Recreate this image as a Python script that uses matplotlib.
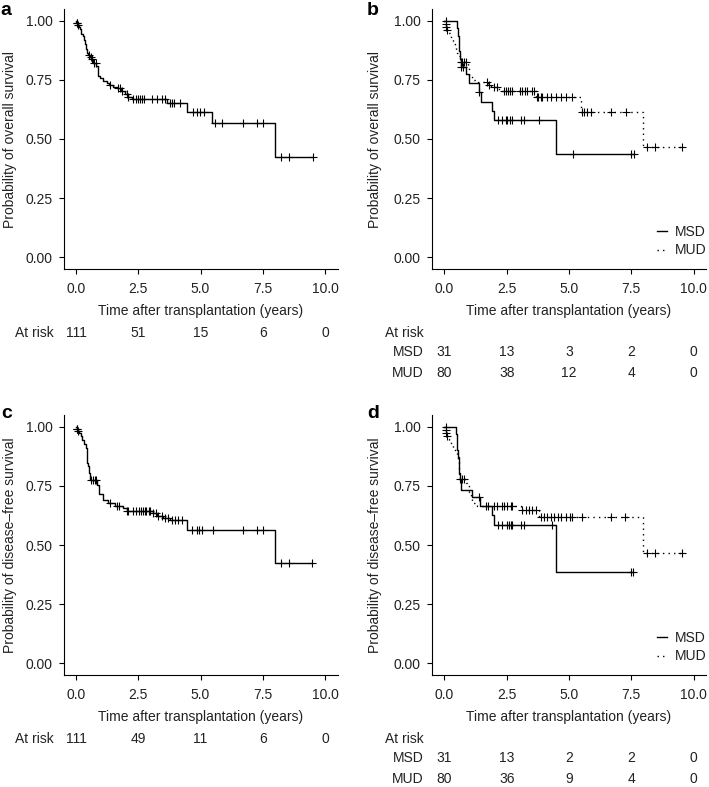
import matplotlib
matplotlib.use("Agg")
import matplotlib.pyplot as plt
import matplotlib.transforms as mtransforms
from matplotlib.lines import Line2D
import numpy as np

plt.rcParams["font.family"] = ["Liberation Sans", "DejaVu Sans"]
plt.rcParams["font.size"] = 10

TXT = "#222222"

# time axis / at-risk table
time_ticks = [0.0, 2.5, 5.0, 7.5, 10.0]
time_labels = ["0.0", "2.5", "5.0", "7.5", "10.0"]
surv_ticks = [0.0, 0.25, 0.5, 0.75, 1.0]
surv_labels = ["0.00", "0.25", "0.50", "0.75", "1.00"]
groups = ["MSD", "MUD"]

# ---- panel a: overall survival, all patients
os_all_t = [0.02, 0.07, 0.12, 0.16, 0.22, 0.28, 0.33, 0.38, 0.42, 0.46, 0.50, 0.55,
            0.62, 0.70, 0.82, 0.88, 0.96, 1.10, 1.23, 1.34, 1.50, 1.63, 1.80, 1.97,
            2.10, 2.24, 3.64, 4.44, 5.46, 8.00]
os_all_s = [0.991, 0.982, 0.973, 0.963, 0.945, 0.936, 0.918, 0.900, 0.882, 0.864, 0.855, 0.846,
            0.837, 0.820, 0.810, 0.766, 0.756, 0.745, 0.738, 0.728, 0.720, 0.714, 0.703, 0.690,
            0.679, 0.669, 0.651, 0.616, 0.566, 0.425]
os_all_c = [0.03, 0.05, 0.08, 0.53, 0.60, 0.66, 0.74, 0.80, 1.37, 1.70, 1.77, 1.83, 2.03,
            2.10, 2.30, 2.42, 2.50, 2.58, 2.65, 2.72, 3.04, 3.24, 3.44, 3.56, 3.78, 3.85,
            3.92, 4.18, 4.69, 4.85, 4.98, 5.15, 5.58, 5.85, 6.72, 7.26, 7.52, 8.22, 8.57, 9.53]
os_all_risk = [111, 51, 15, 6, 0]

# ---- panel b: overall survival by donor
os_msd_t = [0.49, 0.53, 0.57, 0.60, 0.63, 0.66, 0.87, 1.00, 1.37, 1.47, 1.91, 2.00, 4.47]
os_msd_s = [0.968, 0.935, 0.903, 0.871, 0.839, 0.806, 0.774, 0.735, 0.700, 0.658, 0.620, 0.580, 0.435]
os_msd_c = [0.08, 0.68, 0.75, 1.40, 2.13, 2.30, 2.47, 2.53, 2.64, 2.73, 3.07, 3.20, 3.80,
            5.17, 7.47, 7.60]
os_mud_t = [0.03, 0.06, 0.10, 0.15, 0.22, 0.28, 0.33, 0.38, 0.43, 0.47, 0.51, 0.56, 0.62,
            0.66, 0.95, 1.00, 1.13, 1.33, 1.73, 1.87, 2.13, 2.27, 3.67, 5.47, 7.97]
os_mud_s = [0.9875, 0.975, 0.9625, 0.95, 0.9375, 0.925, 0.9125, 0.90, 0.8875, 0.875, 0.8625,
            0.85, 0.8375, 0.825, 0.80, 0.763, 0.748, 0.739, 0.727, 0.718, 0.711, 0.704,
            0.676, 0.615, 0.465]
os_mud_c = [0.05, 0.08, 0.12, 0.68, 0.72, 0.80, 0.85, 1.70, 1.77, 2.00, 2.10, 2.40, 2.47,
            2.56, 2.64, 2.72, 3.03, 3.13, 3.23, 3.33, 3.53, 3.61, 3.71, 3.77, 3.87, 3.93,
            4.11, 4.27, 4.47, 4.67, 4.87, 5.13, 5.51, 5.60, 5.73, 5.89, 6.67, 7.27, 8.13,
            8.47, 9.53]
os_grp_risk = [[31, 13, 3, 2, 0], [80, 38, 12, 4, 0]]

# ---- panel c: disease-free survival, all patients
dfs_all_t = [0.03, 0.08, 0.12, 0.20, 0.26, 0.32, 0.40, 0.44, 0.46, 0.50, 0.53, 0.56, 0.83,
             0.92, 1.10, 1.30, 1.57, 1.90, 2.03, 3.08, 3.24, 3.50, 3.78, 4.44, 8.00]
dfs_all_s = [0.991, 0.982, 0.975, 0.963, 0.946, 0.928, 0.911, 0.875, 0.848, 0.833, 0.805,
             0.777, 0.756, 0.716, 0.689, 0.678, 0.667, 0.655, 0.643, 0.636, 0.624, 0.614,
             0.605, 0.565, 0.424]
dfs_all_c = [0.04, 0.06, 0.09, 0.60, 0.68, 0.75, 0.80, 1.37, 1.63, 1.74, 2.06, 2.10, 2.30,
             2.43, 2.53, 2.63, 2.70, 2.77, 2.83, 2.93, 2.97, 3.10, 3.20, 3.30, 3.44, 3.57,
             3.70, 3.84, 3.98, 4.10, 4.24, 4.65, 4.85, 4.95, 5.05, 5.52, 6.72, 7.26, 7.52,
             8.22, 8.57, 9.46]
dfs_all_risk = [111, 49, 11, 6, 0]

# ---- panel d: disease-free survival by donor
dfs_msd_t = [0.47, 0.49, 0.50, 0.53, 0.58, 0.60, 0.62, 0.68, 1.09, 1.44, 1.89, 2.00, 4.47]
dfs_msd_s = [0.968, 0.935, 0.903, 0.871, 0.839, 0.806, 0.774, 0.735, 0.703, 0.665, 0.627,
             0.585, 0.387]
dfs_msd_c = [0.06, 1.40, 2.13, 2.33, 2.53, 2.60, 2.67, 2.73, 3.07, 3.20, 4.33, 7.49, 7.57]
dfs_mud_t = [0.03, 0.06, 0.10, 0.15, 0.20, 0.27, 0.33, 0.39, 0.45, 0.50, 0.55, 0.58, 0.60,
             0.62, 0.85, 0.90, 1.00, 1.05, 1.10, 1.30, 3.07, 3.80, 7.97]
dfs_mud_s = [0.9875, 0.975, 0.9625, 0.95, 0.9375, 0.925, 0.9125, 0.90, 0.8875, 0.875, 0.85,
             0.825, 0.80, 0.78, 0.764, 0.75, 0.724, 0.70, 0.676, 0.665, 0.648, 0.62, 0.465]
dfs_mud_c = [0.05, 0.08, 0.11, 0.64, 0.70, 0.80, 1.67, 1.73, 2.00, 2.10, 2.33, 2.40, 2.53,
             2.67, 2.73, 3.13, 3.27, 3.40, 3.53, 3.67, 3.87, 4.00, 4.13, 4.27, 4.40, 4.56,
             4.69, 4.87, 5.04, 5.13, 5.53, 6.67, 7.23, 8.13, 8.47, 9.53]
dfs_grp_risk = [[31, 13, 2, 2, 0], [80, 36, 9, 4, 0]]


def km(ax, t, s, cens, ls="-"):
    """Draw a Kaplan-Meier step curve with '+' censor marks."""
    t = np.asarray(t)
    s = np.asarray(s)
    cens = np.asarray(cens)
    end = max(t.max(), cens.max())
    x = np.concatenate([[0.0], t, [end]])
    y = np.concatenate([[1.0], s, [s[-1]]])
    ax.step(x, y, where="post", color="black", lw=1.0, ls=ls, zorder=3)
    # survival level at each censoring time
    lev = np.concatenate([[1.0], s])[np.searchsorted(t, cens, side="right")]
    ax.plot(cens, lev, ls="none", marker="+", ms=5.5, mew=0.8, color="black", zorder=4)


def style(ax, ylabel, ylab_x):
    ax.set_xlim(-0.5, 10.5)
    ax.set_ylim(-0.05, 1.05)
    ax.set_xticks(time_ticks, time_labels)
    ax.set_yticks(surv_ticks, surv_labels)
    for side in ("top", "right"):
        ax.spines[side].set_visible(False)
    for side in ("left", "bottom"):
        ax.spines[side].set_linewidth(0.8)
    ax.tick_params(length=3.5, width=0.8, colors="black", labelcolor=TXT, labelsize=10)
    ax.tick_params(axis="x", pad=6)
    ax.tick_params(axis="y", pad=4.5)
    ax.set_ylabel(ylabel, color=TXT)
    ax.yaxis.set_label_coords(ylab_x, 0.5)
    ax.yaxis.label.set_va("center")
    ax.set_xlabel("Time after transplantation (years)", color=TXT)
    ax.xaxis.set_label_coords(0.5, -0.177)
    ax.xaxis.label.set_va("baseline")


def risk_single(ax, counts):
    tr = mtransforms.blended_transform_factory(ax.transData, ax.transAxes)
    ax.text(-0.9, -0.261, "At risk", transform=tr, ha="right", va="baseline", color=TXT)
    for xt, n in zip(time_ticks, counts):
        ax.text(xt, -0.261, str(n), transform=tr, ha="center", va="baseline", color=TXT)


def risk_groups(ax, counts):
    tr = mtransforms.blended_transform_factory(ax.transData, ax.transAxes)
    ax.text(-0.85, -0.261, "At risk", transform=tr, ha="right", va="baseline", color=TXT)
    for g, row, yy in zip(groups, counts, [-0.334, -0.415]):
        ax.text(-0.85, yy, g, transform=tr, ha="right", va="baseline", color=TXT)
        for xt, n in zip(time_ticks, row):
            ax.text(xt, yy, str(n), transform=tr, ha="center", va="baseline", color=TXT)


def legend(ax):
    handles = [Line2D([], [], color="black", lw=1.0, ls="-"),
               Line2D([], [], color="black", lw=1.0, ls=(0, (1, 3)))]
    ax.legend(handles, groups, loc="lower right", bbox_to_anchor=(1.0, 0.045),
              frameon=False, handlelength=0.7, handletextpad=0.55, labelspacing=0.3,
              borderpad=0, borderaxespad=0, fontsize=10, labelcolor=TXT)


W, H = 709, 787
fig = plt.figure(figsize=(W / 100, H / 100), dpi=100)

ax_a = fig.add_axes([63.5 / W, 1 - 269.1 / H, 274 / W, 260.2 / H])
ax_b = fig.add_axes([432 / W, 1 - 269.1 / H, 274 / W, 260.2 / H])
ax_c = fig.add_axes([63.5 / W, 1 - 675.2 / H, 274 / W, 260.2 / H])
ax_d = fig.add_axes([432 / W, 1 - 675.2 / H, 274 / W, 260.2 / H])

# a
km(ax_a, os_all_t, os_all_s, os_all_c)
style(ax_a, "Probability of overall survival", -0.197)
risk_single(ax_a, os_all_risk)

# b
km(ax_b, os_msd_t, os_msd_s, os_msd_c, "-")
km(ax_b, os_mud_t, os_mud_s, os_mud_c, (0, (1, 3)))
style(ax_b, "Probability of overall survival", -0.208)
risk_groups(ax_b, os_grp_risk)
legend(ax_b)

# c
km(ax_c, dfs_all_t, dfs_all_s, dfs_all_c)
style(ax_c, "Probability of disease\u2013free survival", -0.197)
risk_single(ax_c, dfs_all_risk)

# d
km(ax_d, dfs_msd_t, dfs_msd_s, dfs_msd_c, "-")
km(ax_d, dfs_mud_t, dfs_mud_s, dfs_mud_c, (0, (1, 3)))
style(ax_d, "Probability of disease\u2013free survival", -0.208)
risk_groups(ax_d, dfs_grp_risk)
legend(ax_d)

# panel letters
for lab, x, y in [("a", 0, 15), ("b", 367, 15), ("c", 1, 418), ("d", 367, 418)]:
    fig.text(x / W, 1 - y / H, lab, fontsize=14, fontweight="bold", ha="left", va="baseline")

fig.savefig("out.png", dpi=100)
